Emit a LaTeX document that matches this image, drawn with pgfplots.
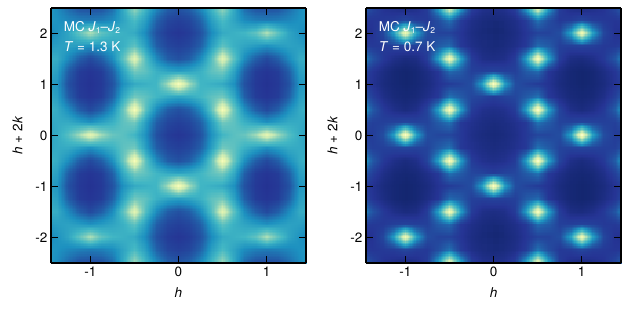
\documentclass[border=0pt]{standalone}
\usepackage{pgfplots}
\pgfplotsset{compat=1.18}
\usepgfplotslibrary{patchplots}
\usepackage{fontspec}
\setmainfont{TeX Gyre Heros}
\pgfplotsset{
 colormap={ylgnbur}{rgb255(0)=(8,29,88); rgb255(1)=(37,52,148); rgb255(2)=(34,94,168); rgb255(3)=(29,145,192); rgb255(4)=(65,182,196); rgb255(5)=(127,205,187); rgb255(6)=(199,233,180); rgb255(7)=(237,248,177); rgb255(8)=(255,255,217)},
 panel/.style={
  scale only axis, width=255pt, height=255pt, anchor=south west,
  view={0}{90}, xmin=-1.445, xmax=1.445, ymin=-2.5, ymax=2.5,
  xtick={-1,0,1}, ytick={-2,-1,0,1,2}, ztick=\empty,
  tick align=inside, major tick length=7pt, tick style={black,line width=1.1pt},
  axis line style={black,line width=1.4pt}, axis on top=true,
  tick pos=both, xticklabel pos=lower, yticklabel pos=left,
  point meta min=0, point meta max=100, colormap name=ylgnbur,
  /pgf/number format/assume math mode=true,
  ticklabel style={font=\fontsize{13.5}{15}\selectfont},
  label style={font=\fontsize{13.5}{15}\selectfont},
  xlabel={\textit{h}}, ylabel={\textit{h} + 2\textit{k}},
  xlabel style={at={(axis description cs:0.5,0)},yshift=-21pt,anchor=north},
  ylabel style={at={(axis description cs:0,0.5)},yshift=25pt,anchor=south},
 },
 heat/.style={surf, shader=interp, patch type=bilinear, mesh/cols=25},
}
\newcommand{\tagtext}[1]{
 \node[white,anchor=west,font=\fontsize{13.5}{15}\selectfont,inner sep=0pt] at (axis cs:-1.30,2.12) {MC \textit{J}\raisebox{-0.15em}{\fontsize{8.5}{9}\selectfont 1}--\textit{J}\raisebox{-0.15em}{\fontsize{8.5}{9}\selectfont 2}};
 \node[white,anchor=west,font=\fontsize{13.5}{15}\selectfont,inner sep=0pt] at (axis cs:-1.30,1.74) {\textit{T} = #1 K};
}
\begin{document}
\begin{tikzpicture}[x=1pt,y=1pt]
\useasboundingbox (0,0) rectangle (629,314);
\begin{axis}[panel, at={(51pt,51pt)}]
\addplot3[heat] table[header=false,x index=0,y index=1,z index=2] {
-1.5 -2.5 42
-1.375 -2.5 36
-1.25 -2.5 28
-1.125 -2.5 21
-1 -2.5 20
-.875 -2.5 21
-.75 -2.5 28
-.625 -2.5 46
-.5 -2.5 68
-.375 -2.5 50
-.25 -2.5 36
-.125 -2.5 26
0 -2.5 22
.125 -2.5 26
.25 -2.5 36
.375 -2.5 50
.5 -2.5 68
.625 -2.5 46
.75 -2.5 28
.875 -2.5 21
1 -2.5 20
1.125 -2.5 21
1.25 -2.5 28
1.375 -2.5 36
1.5 -2.5 42
-1.5 -2.25 40
-1.375 -2.25 38
-1.25 -2.25 35
-1.125 -2.25 33
-1 -2.25 32
-.875 -2.25 33
-.75 -2.25 36
-.625 -2.25 44
-.5 -2.25 52
-.375 -2.25 42
-.25 -2.25 26
-.125 -2.25 18
0 -2.25 16
.125 -2.25 18
.25 -2.25 26
.375 -2.25 42
.5 -2.25 52
.625 -2.25 44
.75 -2.25 36
.875 -2.25 33
1 -2.25 32
1.125 -2.25 33
1.25 -2.25 35
1.375 -2.25 38
1.5 -2.25 40
-1.5 -2 34
-1.375 -2 38
-1.25 -2 44
-1.125 -2 56
-1 -2 70
-.875 -2 56
-.75 -2 50
-.625 -2 48
-.5 -2 46
-.375 -2 36
-.25 -2 21
-.125 -2 15
0 -2 13
.125 -2 15
.25 -2 21
.375 -2 36
.5 -2 46
.625 -2 48
.75 -2 50
.875 -2 56
1 -2 70
1.125 -2 56
1.25 -2 44
1.375 -2 38
1.5 -2 34
-1.5 -1.75 40
-1.375 -1.75 42
-1.25 -1.75 43
-1.125 -1.75 41
-1 -1.75 38
-.875 -1.75 41
-.75 -1.75 44
-.625 -1.75 48
-.5 -1.75 56
-.375 -1.75 42
-.25 -1.75 25
-.125 -1.75 18
0 -1.75 16
.125 -1.75 18
.25 -1.75 25
.375 -1.75 42
.5 -1.75 56
.625 -1.75 48
.75 -1.75 44
.875 -1.75 41
1 -1.75 38
1.125 -1.75 41
1.25 -1.75 43
1.375 -1.75 42
1.5 -1.75 40
-1.5 -1.5 48
-1.375 -1.5 46
-1.25 -1.5 36
-1.125 -1.5 25
-1 -1.5 19
-.875 -1.5 25
-.75 -1.5 36
-.625 -1.5 56
-.5 -1.5 84
-.375 -1.5 54
-.25 -1.5 36
-.125 -1.5 25
0 -1.5 21
.125 -1.5 25
.25 -1.5 36
.375 -1.5 54
.5 -1.5 84
.625 -1.5 56
.75 -1.5 36
.875 -1.5 25
1 -1.5 19
1.125 -1.5 25
1.25 -1.5 36
1.375 -1.5 46
1.5 -1.5 48
-1.5 -1.25 46
-1.375 -1.25 42
-1.25 -1.25 25
-1.125 -1.25 15
-1 -1.25 13
-.875 -1.25 15
-.75 -1.25 25
-.625 -1.25 44
-.5 -1.25 60
-.375 -1.25 56
-.25 -1.25 48
-.125 -1.25 44
0 -1.25 42
.125 -1.25 44
.25 -1.25 48
.375 -1.25 56
.5 -1.25 60
.625 -1.25 44
.75 -1.25 25
.875 -1.25 15
1 -1.25 13
1.125 -1.25 15
1.25 -1.25 25
1.375 -1.25 42
1.5 -1.25 46
-1.5 -1 42
-1.375 -1 39
-1.25 -1 21
-1.125 -1 14
-1 -1 12
-.875 -1 14
-.75 -1 21
-.625 -1 38
-.5 -1 46
-.375 -1 48
-.25 -1 50
-.125 -1 68
0 -1 92
.125 -1 68
.25 -1 50
.375 -1 48
.5 -1 46
.625 -1 38
.75 -1 21
.875 -1 14
1 -1 12
1.125 -1 14
1.25 -1 21
1.375 -1 39
1.5 -1 42
-1.5 -.75 46
-1.375 -.75 42
-1.25 -.75 25
-1.125 -.75 15
-1 -.75 13
-.875 -.75 15
-.75 -.75 25
-.625 -.75 46
-.5 -.75 60
-.375 -.75 56
-.25 -.75 50
-.125 -.75 46
0 -.75 44
.125 -.75 46
.25 -.75 50
.375 -.75 56
.5 -.75 60
.625 -.75 46
.75 -.75 25
.875 -.75 15
1 -.75 13
1.125 -.75 15
1.25 -.75 25
1.375 -.75 42
1.5 -.75 46
-1.5 -.5 50
-1.375 -.5 46
-1.25 -.5 37
-1.125 -.5 25
-1 -.5 19
-.875 -.5 25
-.75 -.5 37
-.625 -.5 58
-.5 -.5 92
-.375 -.5 56
-.25 -.5 36
-.125 -.5 25
0 -.5 21
.125 -.5 25
.25 -.5 36
.375 -.5 56
.5 -.5 92
.625 -.5 58
.75 -.5 37
.875 -.5 25
1 -.5 19
1.125 -.5 25
1.25 -.5 37
1.375 -.5 46
1.5 -.5 50
-1.5 -.25 44
-1.375 -.25 46
-1.25 -.25 46
-1.125 -.25 42
-1 -.25 38
-.875 -.25 43
-.75 -.25 48
-.625 -.25 56
-.5 -.25 60
-.375 -.25 42
-.25 -.25 25
-.125 -.25 18
0 -.25 16
.125 -.25 18
.25 -.25 25
.375 -.25 42
.5 -.25 60
.625 -.25 56
.75 -.25 48
.875 -.25 43
1 -.25 38
1.125 -.25 42
1.25 -.25 46
1.375 -.25 46
1.5 -.25 44
-1.5 0 42
-1.375 0 46
-1.25 0 54
-1.125 0 68
-1 0 84
-.875 0 68
-.75 0 58
-.625 0 55
-.5 0 50
-.375 0 38
-.25 0 21
-.125 0 15
0 0 13
.125 0 15
.25 0 21
.375 0 38
.5 0 50
.625 0 55
.75 0 58
.875 0 68
1 0 84
1.125 0 68
1.25 0 54
1.375 0 46
1.5 0 42
-1.5 .25 44
-1.375 .25 46
-1.25 .25 46
-1.125 .25 42
-1 .25 38
-.875 .25 43
-.75 .25 48
-.625 .25 56
-.5 .25 60
-.375 .25 42
-.25 .25 25
-.125 .25 18
0 .25 16
.125 .25 18
.25 .25 25
.375 .25 42
.5 .25 60
.625 .25 56
.75 .25 48
.875 .25 43
1 .25 38
1.125 .25 42
1.25 .25 46
1.375 .25 46
1.5 .25 44
-1.5 .5 50
-1.375 .5 46
-1.25 .5 37
-1.125 .5 25
-1 .5 19
-.875 .5 25
-.75 .5 37
-.625 .5 58
-.5 .5 92
-.375 .5 56
-.25 .5 36
-.125 .5 25
0 .5 21
.125 .5 25
.25 .5 36
.375 .5 56
.5 .5 92
.625 .5 58
.75 .5 37
.875 .5 25
1 .5 19
1.125 .5 25
1.25 .5 37
1.375 .5 46
1.5 .5 50
-1.5 .75 46
-1.375 .75 42
-1.25 .75 25
-1.125 .75 15
-1 .75 13
-.875 .75 15
-.75 .75 25
-.625 .75 46
-.5 .75 60
-.375 .75 56
-.25 .75 50
-.125 .75 46
0 .75 44
.125 .75 46
.25 .75 50
.375 .75 56
.5 .75 60
.625 .75 46
.75 .75 25
.875 .75 15
1 .75 13
1.125 .75 15
1.25 .75 25
1.375 .75 42
1.5 .75 46
-1.5 1 42
-1.375 1 39
-1.25 1 21
-1.125 1 14
-1 1 12
-.875 1 14
-.75 1 21
-.625 1 38
-.5 1 46
-.375 1 48
-.25 1 50
-.125 1 68
0 1 92
.125 1 68
.25 1 50
.375 1 48
.5 1 46
.625 1 38
.75 1 21
.875 1 14
1 1 12
1.125 1 14
1.25 1 21
1.375 1 39
1.5 1 42
-1.5 1.25 46
-1.375 1.25 42
-1.25 1.25 25
-1.125 1.25 15
-1 1.25 13
-.875 1.25 15
-.75 1.25 25
-.625 1.25 44
-.5 1.25 60
-.375 1.25 56
-.25 1.25 48
-.125 1.25 44
0 1.25 42
.125 1.25 44
.25 1.25 48
.375 1.25 56
.5 1.25 60
.625 1.25 44
.75 1.25 25
.875 1.25 15
1 1.25 13
1.125 1.25 15
1.25 1.25 25
1.375 1.25 42
1.5 1.25 46
-1.5 1.5 48
-1.375 1.5 46
-1.25 1.5 36
-1.125 1.5 25
-1 1.5 19
-.875 1.5 25
-.75 1.5 36
-.625 1.5 56
-.5 1.5 84
-.375 1.5 54
-.25 1.5 36
-.125 1.5 25
0 1.5 21
.125 1.5 25
.25 1.5 36
.375 1.5 54
.5 1.5 84
.625 1.5 56
.75 1.5 36
.875 1.5 25
1 1.5 19
1.125 1.5 25
1.25 1.5 36
1.375 1.5 46
1.5 1.5 48
-1.5 1.75 40
-1.375 1.75 42
-1.25 1.75 43
-1.125 1.75 41
-1 1.75 38
-.875 1.75 41
-.75 1.75 44
-.625 1.75 48
-.5 1.75 56
-.375 1.75 42
-.25 1.75 25
-.125 1.75 18
0 1.75 16
.125 1.75 18
.25 1.75 25
.375 1.75 42
.5 1.75 56
.625 1.75 48
.75 1.75 44
.875 1.75 41
1 1.75 38
1.125 1.75 41
1.25 1.75 43
1.375 1.75 42
1.5 1.75 40
-1.5 2 34
-1.375 2 38
-1.25 2 44
-1.125 2 56
-1 2 70
-.875 2 56
-.75 2 50
-.625 2 48
-.5 2 46
-.375 2 36
-.25 2 21
-.125 2 15
0 2 13
.125 2 15
.25 2 21
.375 2 36
.5 2 46
.625 2 48
.75 2 50
.875 2 56
1 2 70
1.125 2 56
1.25 2 44
1.375 2 38
1.5 2 34
-1.5 2.25 40
-1.375 2.25 38
-1.25 2.25 35
-1.125 2.25 33
-1 2.25 32
-.875 2.25 33
-.75 2.25 36
-.625 2.25 44
-.5 2.25 52
-.375 2.25 42
-.25 2.25 26
-.125 2.25 18
0 2.25 16
.125 2.25 18
.25 2.25 26
.375 2.25 42
.5 2.25 52
.625 2.25 44
.75 2.25 36
.875 2.25 33
1 2.25 32
1.125 2.25 33
1.25 2.25 35
1.375 2.25 38
1.5 2.25 40
-1.5 2.5 42
-1.375 2.5 36
-1.25 2.5 28
-1.125 2.5 21
-1 2.5 20
-.875 2.5 21
-.75 2.5 28
-.625 2.5 46
-.5 2.5 68
-.375 2.5 50
-.25 2.5 36
-.125 2.5 26
0 2.5 22
.125 2.5 26
.25 2.5 36
.375 2.5 50
.5 2.5 68
.625 2.5 46
.75 2.5 28
.875 2.5 21
1 2.5 20
1.125 2.5 21
1.25 2.5 28
1.375 2.5 36
1.5 2.5 42
};
\tagtext{1.3}
\end{axis}
\begin{axis}[panel, at={(366pt,51pt)}]
\addplot3[heat] table[header=false,x index=0,y index=1,z index=2] {
-1.5 -2.5 28
-1.375 -2.5 18
-1.25 -2.5 12
-1.125 -2.5 10
-1 -2.5 8
-.875 -2.5 10
-.75 -2.5 15
-.625 -2.5 42
-.5 -2.5 88
-.375 -2.5 44
-.25 -2.5 16
-.125 -2.5 11
0 -2.5 10
.125 -2.5 11
.25 -2.5 16
.375 -2.5 44
.5 -2.5 88
.625 -2.5 42
.75 -2.5 15
.875 -2.5 10
1 -2.5 8
1.125 -2.5 10
1.25 -2.5 12
1.375 -2.5 18
1.5 -2.5 28
-1.5 -2.25 14
-1.375 -2.25 13
-1.25 -2.25 14
-1.125 -2.25 15
-1 -2.25 18
-.875 -2.25 15
-.75 -2.25 14
-.625 -2.25 20
-.5 -2.25 30
-.375 -2.25 15
-.25 -2.25 10
-.125 -2.25 8
0 -2.25 7
.125 -2.25 8
.25 -2.25 10
.375 -2.25 15
.5 -2.25 30
.625 -2.25 20
.75 -2.25 14
.875 -2.25 15
1 -2.25 18
1.125 -2.25 15
1.25 -2.25 14
1.375 -2.25 13
1.5 -2.25 14
-1.5 -2 11
-1.375 -2 12
-1.25 -2 18
-1.125 -2 42
-1 -2 88
-.875 -2 42
-.75 -2 20
-.625 -2 17
-.5 -2 17
-.375 -2 13
-.25 -2 9
-.125 -2 7
0 -2 6
.125 -2 7
.25 -2 9
.375 -2 13
.5 -2 17
.625 -2 17
.75 -2 20
.875 -2 42
1 -2 88
1.125 -2 42
1.25 -2 18
1.375 -2 12
1.5 -2 11
-1.5 -1.75 16
-1.375 -1.75 14
-1.25 -1.75 14
-1.125 -1.75 16
-1 -1.75 17
-.875 -1.75 16
-.75 -1.75 16
-.625 -1.75 24
-.5 -1.75 28
-.375 -1.75 14
-.25 -1.75 10
-.125 -1.75 8
0 -1.75 7
.125 -1.75 8
.25 -1.75 10
.375 -1.75 14
.5 -1.75 28
.625 -1.75 24
.75 -1.75 16
.875 -1.75 16
1 -1.75 17
1.125 -1.75 16
1.25 -1.75 14
1.375 -1.75 14
1.5 -1.75 16
-1.5 -1.5 40
-1.375 -1.5 22
-1.25 -1.5 14
-1.125 -1.5 10
-1 -1.5 8
-.875 -1.5 9
-.75 -1.5 15
-.625 -1.5 42
-.5 -1.5 92
-.375 -1.5 42
-.25 -1.5 15
-.125 -1.5 10
0 -1.5 9
.125 -1.5 10
.25 -1.5 15
.375 -1.5 42
.5 -1.5 92
.625 -1.5 42
.75 -1.5 15
.875 -1.5 9
1 -1.5 8
1.125 -1.5 10
1.25 -1.5 14
1.375 -1.5 22
1.5 -1.5 40
-1.5 -1.25 20
-1.375 -1.25 13
-1.25 -1.25 9
-1.125 -1.25 6
-1 -1.25 5
-.875 -1.25 6
-.75 -1.25 9
-.625 -1.25 13
-.5 -1.25 28
-.375 -1.25 24
-.25 -1.25 16
-.125 -1.25 16
0 -1.25 17
.125 -1.25 16
.25 -1.25 16
.375 -1.25 24
.5 -1.25 28
.625 -1.25 13
.75 -1.25 9
.875 -1.25 6
1 -1.25 5
1.125 -1.25 6
1.25 -1.25 9
1.375 -1.25 13
1.5 -1.25 20
-1.5 -1 16
-1.375 -1 12
-1.25 -1 8
-1.125 -1 6
-1 -1 5
-.875 -1 6
-.75 -1 8
-.625 -1 12
-.5 -1 15
-.375 -1 17
-.25 -1 20
-.125 -1 42
0 -1 95
.125 -1 42
.25 -1 20
.375 -1 17
.5 -1 15
.625 -1 12
.75 -1 8
.875 -1 6
1 -1 5
1.125 -1 6
1.25 -1 8
1.375 -1 12
1.5 -1 16
-1.5 -.75 26
-1.375 -.75 16
-1.25 -.75 10
-1.125 -.75 7
-1 -.75 6
-.875 -.75 7
-.75 -.75 10
-.625 -.75 14
-.5 -.75 30
-.375 -.75 24
-.25 -.75 18
-.125 -.75 17
0 -.75 15
.125 -.75 17
.25 -.75 18
.375 -.75 24
.5 -.75 30
.625 -.75 14
.75 -.75 10
.875 -.75 7
1 -.75 6
1.125 -.75 7
1.25 -.75 10
1.375 -.75 16
1.5 -.75 26
-1.5 -.5 48
-1.375 -.5 24
-1.25 -.5 14
-1.125 -.5 10
-1 -.5 8
-.875 -.5 10
-.75 -.5 17
-.625 -.5 42
-.5 -.5 95
-.375 -.5 42
-.25 -.5 15
-.125 -.5 11
0 -.5 10
.125 -.5 11
.25 -.5 15
.375 -.5 42
.5 -.5 95
.625 -.5 42
.75 -.5 17
.875 -.5 10
1 -.5 8
1.125 -.5 10
1.25 -.5 14
1.375 -.5 24
1.5 -.5 48
-1.5 -.25 22
-1.375 -.25 16
-1.25 -.25 16
-1.125 -.25 17
-1 -.25 18
-.875 -.25 17
-.75 -.25 17
-.625 -.25 24
-.5 -.25 30
-.375 -.25 14
-.25 -.25 11
-.125 -.25 9
0 -.25 8
.125 -.25 9
.25 -.25 11
.375 -.25 14
.5 -.25 30
.625 -.25 24
.75 -.25 17
.875 -.25 17
1 -.25 18
1.125 -.25 17
1.25 -.25 16
1.375 -.25 16
1.5 -.25 22
-1.5 0 15
-1.375 0 15
-1.25 0 20
-1.125 0 42
-1 0 95
-.875 0 42
-.75 0 20
-.625 0 18
-.5 0 18
-.375 0 14
-.25 0 10
-.125 0 8
0 0 7
.125 0 8
.25 0 10
.375 0 14
.5 0 18
.625 0 18
.75 0 20
.875 0 42
1 0 95
1.125 0 42
1.25 0 20
1.375 0 15
1.5 0 15
-1.5 .25 22
-1.375 .25 16
-1.25 .25 16
-1.125 .25 17
-1 .25 18
-.875 .25 17
-.75 .25 17
-.625 .25 24
-.5 .25 30
-.375 .25 14
-.25 .25 11
-.125 .25 9
0 .25 8
.125 .25 9
.25 .25 11
.375 .25 14
.5 .25 30
.625 .25 24
.75 .25 17
.875 .25 17
1 .25 18
1.125 .25 17
1.25 .25 16
1.375 .25 16
1.5 .25 22
-1.5 .5 48
-1.375 .5 24
-1.25 .5 14
-1.125 .5 10
-1 .5 8
-.875 .5 10
-.75 .5 17
-.625 .5 42
-.5 .5 95
-.375 .5 42
-.25 .5 15
-.125 .5 11
0 .5 10
.125 .5 11
.25 .5 15
.375 .5 42
.5 .5 95
.625 .5 42
.75 .5 17
.875 .5 10
1 .5 8
1.125 .5 10
1.25 .5 14
1.375 .5 24
1.5 .5 48
-1.5 .75 26
-1.375 .75 16
-1.25 .75 10
-1.125 .75 7
-1 .75 6
-.875 .75 7
-.75 .75 10
-.625 .75 14
-.5 .75 30
-.375 .75 24
-.25 .75 18
-.125 .75 17
0 .75 15
.125 .75 17
.25 .75 18
.375 .75 24
.5 .75 30
.625 .75 14
.75 .75 10
.875 .75 7
1 .75 6
1.125 .75 7
1.25 .75 10
1.375 .75 16
1.5 .75 26
-1.5 1 16
-1.375 1 12
-1.25 1 8
-1.125 1 6
-1 1 5
-.875 1 6
-.75 1 8
-.625 1 12
-.5 1 15
-.375 1 17
-.25 1 20
-.125 1 42
0 1 95
.125 1 42
.25 1 20
.375 1 17
.5 1 15
.625 1 12
.75 1 8
.875 1 6
1 1 5
1.125 1 6
1.25 1 8
1.375 1 12
1.5 1 16
-1.5 1.25 20
-1.375 1.25 13
-1.25 1.25 9
-1.125 1.25 6
-1 1.25 5
-.875 1.25 6
-.75 1.25 9
-.625 1.25 13
-.5 1.25 28
-.375 1.25 24
-.25 1.25 16
-.125 1.25 16
0 1.25 17
.125 1.25 16
.25 1.25 16
.375 1.25 24
.5 1.25 28
.625 1.25 13
.75 1.25 9
.875 1.25 6
1 1.25 5
1.125 1.25 6
1.25 1.25 9
1.375 1.25 13
1.5 1.25 20
-1.5 1.5 40
-1.375 1.5 22
-1.25 1.5 14
-1.125 1.5 10
-1 1.5 8
-.875 1.5 9
-.75 1.5 15
-.625 1.5 42
-.5 1.5 92
-.375 1.5 42
-.25 1.5 15
-.125 1.5 10
0 1.5 9
.125 1.5 10
.25 1.5 15
.375 1.5 42
.5 1.5 92
.625 1.5 42
.75 1.5 15
.875 1.5 9
1 1.5 8
1.125 1.5 10
1.25 1.5 14
1.375 1.5 22
1.5 1.5 40
-1.5 1.75 16
-1.375 1.75 14
-1.25 1.75 14
-1.125 1.75 16
-1 1.75 17
-.875 1.75 16
-.75 1.75 16
-.625 1.75 24
-.5 1.75 28
-.375 1.75 14
-.25 1.75 10
-.125 1.75 8
0 1.75 7
.125 1.75 8
.25 1.75 10
.375 1.75 14
.5 1.75 28
.625 1.75 24
.75 1.75 16
.875 1.75 16
1 1.75 17
1.125 1.75 16
1.25 1.75 14
1.375 1.75 14
1.5 1.75 16
-1.5 2 11
-1.375 2 12
-1.25 2 18
-1.125 2 42
-1 2 88
-.875 2 42
-.75 2 20
-.625 2 17
-.5 2 17
-.375 2 13
-.25 2 9
-.125 2 7
0 2 6
.125 2 7
.25 2 9
.375 2 13
.5 2 17
.625 2 17
.75 2 20
.875 2 42
1 2 88
1.125 2 42
1.25 2 18
1.375 2 12
1.5 2 11
-1.5 2.25 14
-1.375 2.25 13
-1.25 2.25 14
-1.125 2.25 15
-1 2.25 18
-.875 2.25 15
-.75 2.25 14
-.625 2.25 20
-.5 2.25 30
-.375 2.25 15
-.25 2.25 10
-.125 2.25 8
0 2.25 7
.125 2.25 8
.25 2.25 10
.375 2.25 15
.5 2.25 30
.625 2.25 20
.75 2.25 14
.875 2.25 15
1 2.25 18
1.125 2.25 15
1.25 2.25 14
1.375 2.25 13
1.5 2.25 14
-1.5 2.5 28
-1.375 2.5 18
-1.25 2.5 12
-1.125 2.5 10
-1 2.5 8
-.875 2.5 10
-.75 2.5 15
-.625 2.5 42
-.5 2.5 88
-.375 2.5 44
-.25 2.5 16
-.125 2.5 11
0 2.5 10
.125 2.5 11
.25 2.5 16
.375 2.5 44
.5 2.5 88
.625 2.5 42
.75 2.5 15
.875 2.5 10
1 2.5 8
1.125 2.5 10
1.25 2.5 12
1.375 2.5 18
1.5 2.5 28
};
\tagtext{0.7}
\end{axis}
\end{tikzpicture}
\end{document}
